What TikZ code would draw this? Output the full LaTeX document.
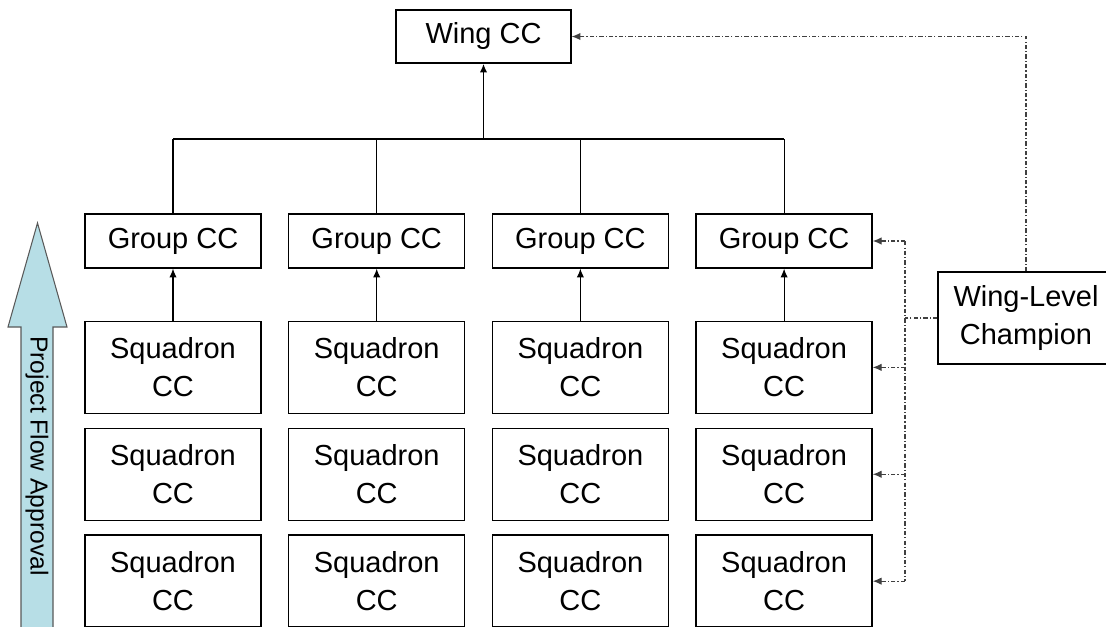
\documentclass[tikz,border=0pt]{standalone}
\usepackage{fontspec}
\setmainfont{Liberation Sans}
\usetikzlibrary{positioning,arrows.meta,calc}
\definecolor{flowblue}{RGB}{183,222,230}

\begin{document}
\begin{tikzpicture}[x=0.02cm,y=-0.02cm,
  mybox/.style={draw,line width=0.8pt,minimum width=3.52cm,align=center,inner sep=0pt,font=\fontsize{16.5}{21.5}\selectfont},
  mygroup/.style={mybox,minimum height=1.08cm},
  mysquad/.style={mybox,minimum height=1.84cm},
  mylink/.style={line width=0.6pt,-{Latex[length=5pt,width=4.2pt]}},
  mybus/.style={gray!50!black,line width=0.6pt,dash pattern=on 2.5pt off 1.2pt on 0.6pt off 1.2pt},
  mychamp/.style={mybus,-{Latex[length=5pt,width=4.2pt]}}
]
\useasboundingbox (0,0) rectangle (1106,626);

% big arrow on the left
\draw[fill=flowblue,draw=gray!70!black,line width=0.6pt]
  (21,640) -- (21,327) -- (8,327) -- (37.5,223) -- (67,327) -- (53,327) -- (53,640);
\node[rotate=-90,font=\fontsize{14}{17}\selectfont] (flow) at (37,456) {Project Flow Approval};

\node[mybox,minimum width=3.5cm,minimum height=1.06cm] at (483.5,36.5) (W) {Wing CC};
\coordinate (bar) at (0,139);
\coordinate (bus) at (905,0);

\foreach \a in {1,2,3,4}{
\node[mygroup] at ({173+203.7*(\a-1)},241) (G\a) {Group CC};
\node[mysquad, below=1.04cm of G\a] (S\a1) {Squadron\\CC};
\node[mysquad, below=0.27cm of S\a1] (S\a2) {Squadron\\CC};
\node[mysquad, below=0.27cm of S\a2] (S\a3) {Squadron\\CC};
\draw[mylink] (S\a1) -- (G\a);
\draw[line width=0.6pt] (G\a.north) -- (G\a.north |- bar);
}
\draw[line width=0.6pt] (G1.north |- bar) -- (G4.north |- bar);
\draw[mylink,line width=0.9pt] (W.south |- bar) -- (W);

\node[mybox,minimum height=1.84cm] at (1026,318) (C) {Wing-Level\\Champion};

\draw[mychamp] (C.north) |- (W.east);
\draw[mybus] (C.west) -- (C.west -| bus);
\draw[mybus] (G4.east -| bus) -- (S43.east -| bus);
\foreach \n in {G4,S41,S42,S43}
  \draw[mychamp] (\n.east -| bus) -- (\n.east);

\end{tikzpicture}
\end{document}
